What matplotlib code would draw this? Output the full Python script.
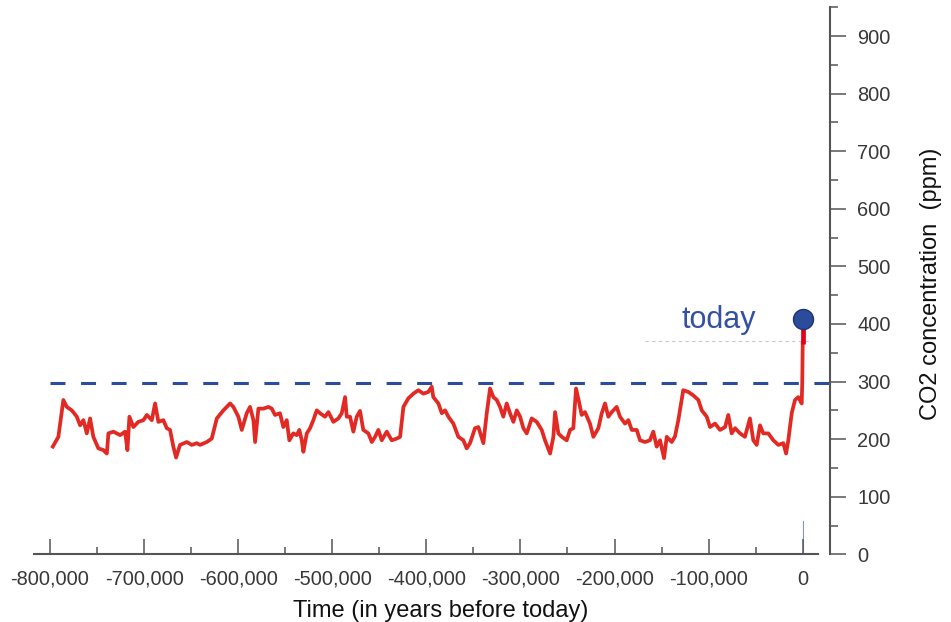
import matplotlib
matplotlib.use("Agg")
import matplotlib.pyplot as plt
from matplotlib.ticker import MultipleLocator, FuncFormatter

plt.rcParams['font.family'] = ['Liberation Sans', 'DejaVu Sans']

# CO2 record (years before today, ppm)
years = [-797000, -791100, -785800, -782200, -776800, -771500, -768000, -764500, -760900, -757400,
         -753900, -748600, -743300, -739600, -737900, -732600, -725500, -720200, -717700, -715600,
         -711400, -706100, -700700, -697100, -691800, -688300, -684800, -679500, -675900, -672400,
         -668900, -666000, -661800, -654600, -649300, -644000, -640500, -633400, -628100, -622700,
         -615700, -608600, -605100, -599800, -596200, -590900, -587400, -583800, -582000, -578500,
         -573200, -567900, -564300, -560800, -555600, -552000, -548400, -545600, -541400, -537700,
         -535000, -532400, -530700, -527100, -523600, -520100, -516500, -513000, -507700, -504100,
         -498800, -493500, -489900, -486400, -484600, -481100, -477600, -474000, -470500, -467000,
         -461600, -458000, -454500, -451000, -447400, -442100, -436800, -431500, -427900, -424400,
         -419100, -413800, -408500, -403200, -397900, -394300, -392600, -387200, -383600, -380100,
         -376600, -371300, -366000, -360700, -357100, -353600, -348300, -344700, -339400, -335800,
         -332300, -328800, -325200, -321700, -318200, -314600, -311100, -307500, -303900, -300400,
         -296900, -293300, -288000, -282700, -277400, -273900, -268500, -265000, -263200, -259700,
         -256100, -250800, -247300, -243800, -240900, -237400, -234900, -231400, -226100, -222500,
         -217200, -213600, -210100, -206600, -203000, -197700, -194200, -188900, -185300, -181700,
         -176400, -172900, -167600, -162400, -158800, -155200, -151600, -147400, -144500, -139200,
         -135700, -132200, -127000, -121600, -116300, -110900, -107300, -102000, -98500, -93200,
         -87900, -82500, -79100, -75500, -71900, -66600, -61400, -56100, -52500, -48900,
         -45400, -41900, -36600, -31200, -25900, -20600, -17700, -15300, -11700, -8200,
         -4700, -1100, -500, 0]
co2 = [187, 204, 268, 256, 250, 239, 224, 233, 210, 236,
       204, 184, 181, 175, 210, 213, 207, 213, 181, 239,
       221, 230, 233, 242, 233, 262, 230, 233, 219, 216,
       187, 168, 190, 195, 190, 193, 190, 195, 201, 236,
       250, 262, 256, 239, 216, 245, 256, 233, 195, 253,
       253, 256, 253, 242, 245, 221, 233, 198, 210, 207,
       216, 198, 178, 210, 219, 233, 250, 245, 239, 247,
       230, 236, 245, 273, 239, 239, 213, 239, 249, 216,
       210, 195, 204, 216, 198, 213, 198, 201, 204, 256,
       271, 279, 285, 279, 282, 291, 273, 262, 245, 250,
       239, 227, 204, 198, 184, 193, 219, 221, 193, 245,
       288, 273, 268, 256, 239, 262, 245, 230, 250, 239,
       219, 210, 236, 230, 216, 198, 175, 204, 247, 210,
       204, 198, 216, 219, 288, 262, 242, 247, 227, 204,
       219, 245, 262, 239, 247, 256, 239, 227, 233, 216,
       216, 198, 195, 198, 213, 187, 198, 167, 204, 195,
       205, 233, 285, 282, 276, 268, 250, 239, 221, 227,
       216, 221, 242, 210, 219, 210, 204, 236, 198, 190,
       224, 210, 210, 198, 190, 193, 175, 198, 245, 268,
       273, 262, 297, 366]

preindustrial_max = 297   # dashed reference level
today_year = 0
today_co2 = [366, 409]    # modern jump
today_label = "today"

xticks = list(range(-800000, 1, 100000))
xlabel = "Time (in years before today)"
ylabel = "CO2 concentration  (ppm)"

RED = '#e22a24'
BLUE = '#2d4b9f'
GREY = '#555555'
TXT = '#383838'

fig = plt.figure(figsize=(9.51, 6.22), dpi=100)
ax = fig.add_axes([34/951, 1 - 554.3/622, 796/951, 547/622])
ax.set_xlim(-817000, 29000)
ax.set_ylim(0, 950)

# spines
ax.spines['left'].set_visible(False)
ax.spines['top'].set_visible(False)
ax.spines['bottom'].set_bounds(-817000, 16000)
for s in ('bottom', 'right'):
    ax.spines[s].set_color(GREY)
    ax.spines[s].set_linewidth(1.5)

# x axis ticks
ax.set_xticks(xticks)
ax.set_xticks([x + 50000 for x in xticks[:-1]], minor=True)
ax.xaxis.set_major_formatter(FuncFormatter(lambda v, p: f"{int(v):,}"))
ax.tick_params(axis='x', which='major', direction='in', length=10.8, width=1.1,
               color=GREY, labelsize=14.4, labelcolor=TXT, pad=11)
ax.tick_params(axis='x', which='minor', direction='in', length=5, width=1.1, color=GREY)

# y axis on the right
ax.yaxis.tick_right()
ax.yaxis.set_major_locator(MultipleLocator(100))
ax.yaxis.set_minor_locator(MultipleLocator(50))
ax.tick_params(axis='y', which='major', direction='out', length=11.5, width=1.1,
               color=GREY, labelsize=14.4, labelcolor=TXT, pad=8)
ax.tick_params(axis='y', which='minor', direction='out', length=5.8, width=1.1, color=GREY)

# dashed pre-industrial line
ax.plot([-800000, 29000], [preindustrial_max, preindustrial_max], color=BLUE, lw=2.2,
        dashes=(4.9, 5.1), zorder=2, dash_capstyle='butt', clip_on=False)

# faint artifacts near "today"
ax.plot([-167600, 10000], [371, 371], color='#c8c8c8', lw=0.8, dashes=(3, 3), zorder=1)
ax.plot([today_year, today_year], [0, 57], color='#7f93cf', lw=0.8, zorder=1)

# CO2 record
ax.plot(years, co2, color=RED, lw=2.7, zorder=3, solid_joinstyle='round')

# modern segment and marker
ax.plot([today_year, today_year], today_co2, color='#e3001b', lw=3.4, zorder=4,
        solid_capstyle='butt')
ax.plot([today_year], [today_co2[1]], 'o', ms=14.4, mfc='#2b4c9b', mec='#1d3373',
        mew=1.0, zorder=5, clip_on=False)

fig.text(719.2/951, 1 - 328.3/622, today_label, color='#3450a2', fontsize=22,
         ha='center', va='baseline')

fig.text(440.5/951, 1 - 616.5/622, xlabel, color='#111111', fontsize=17,
         ha='center', va='baseline')
fig.text(931.5/951, 1 - 283.5/622, ylabel, color='#111111', fontsize=17,
         ha='center', va='center', rotation=90)

fig.savefig('out.png', dpi=100)
